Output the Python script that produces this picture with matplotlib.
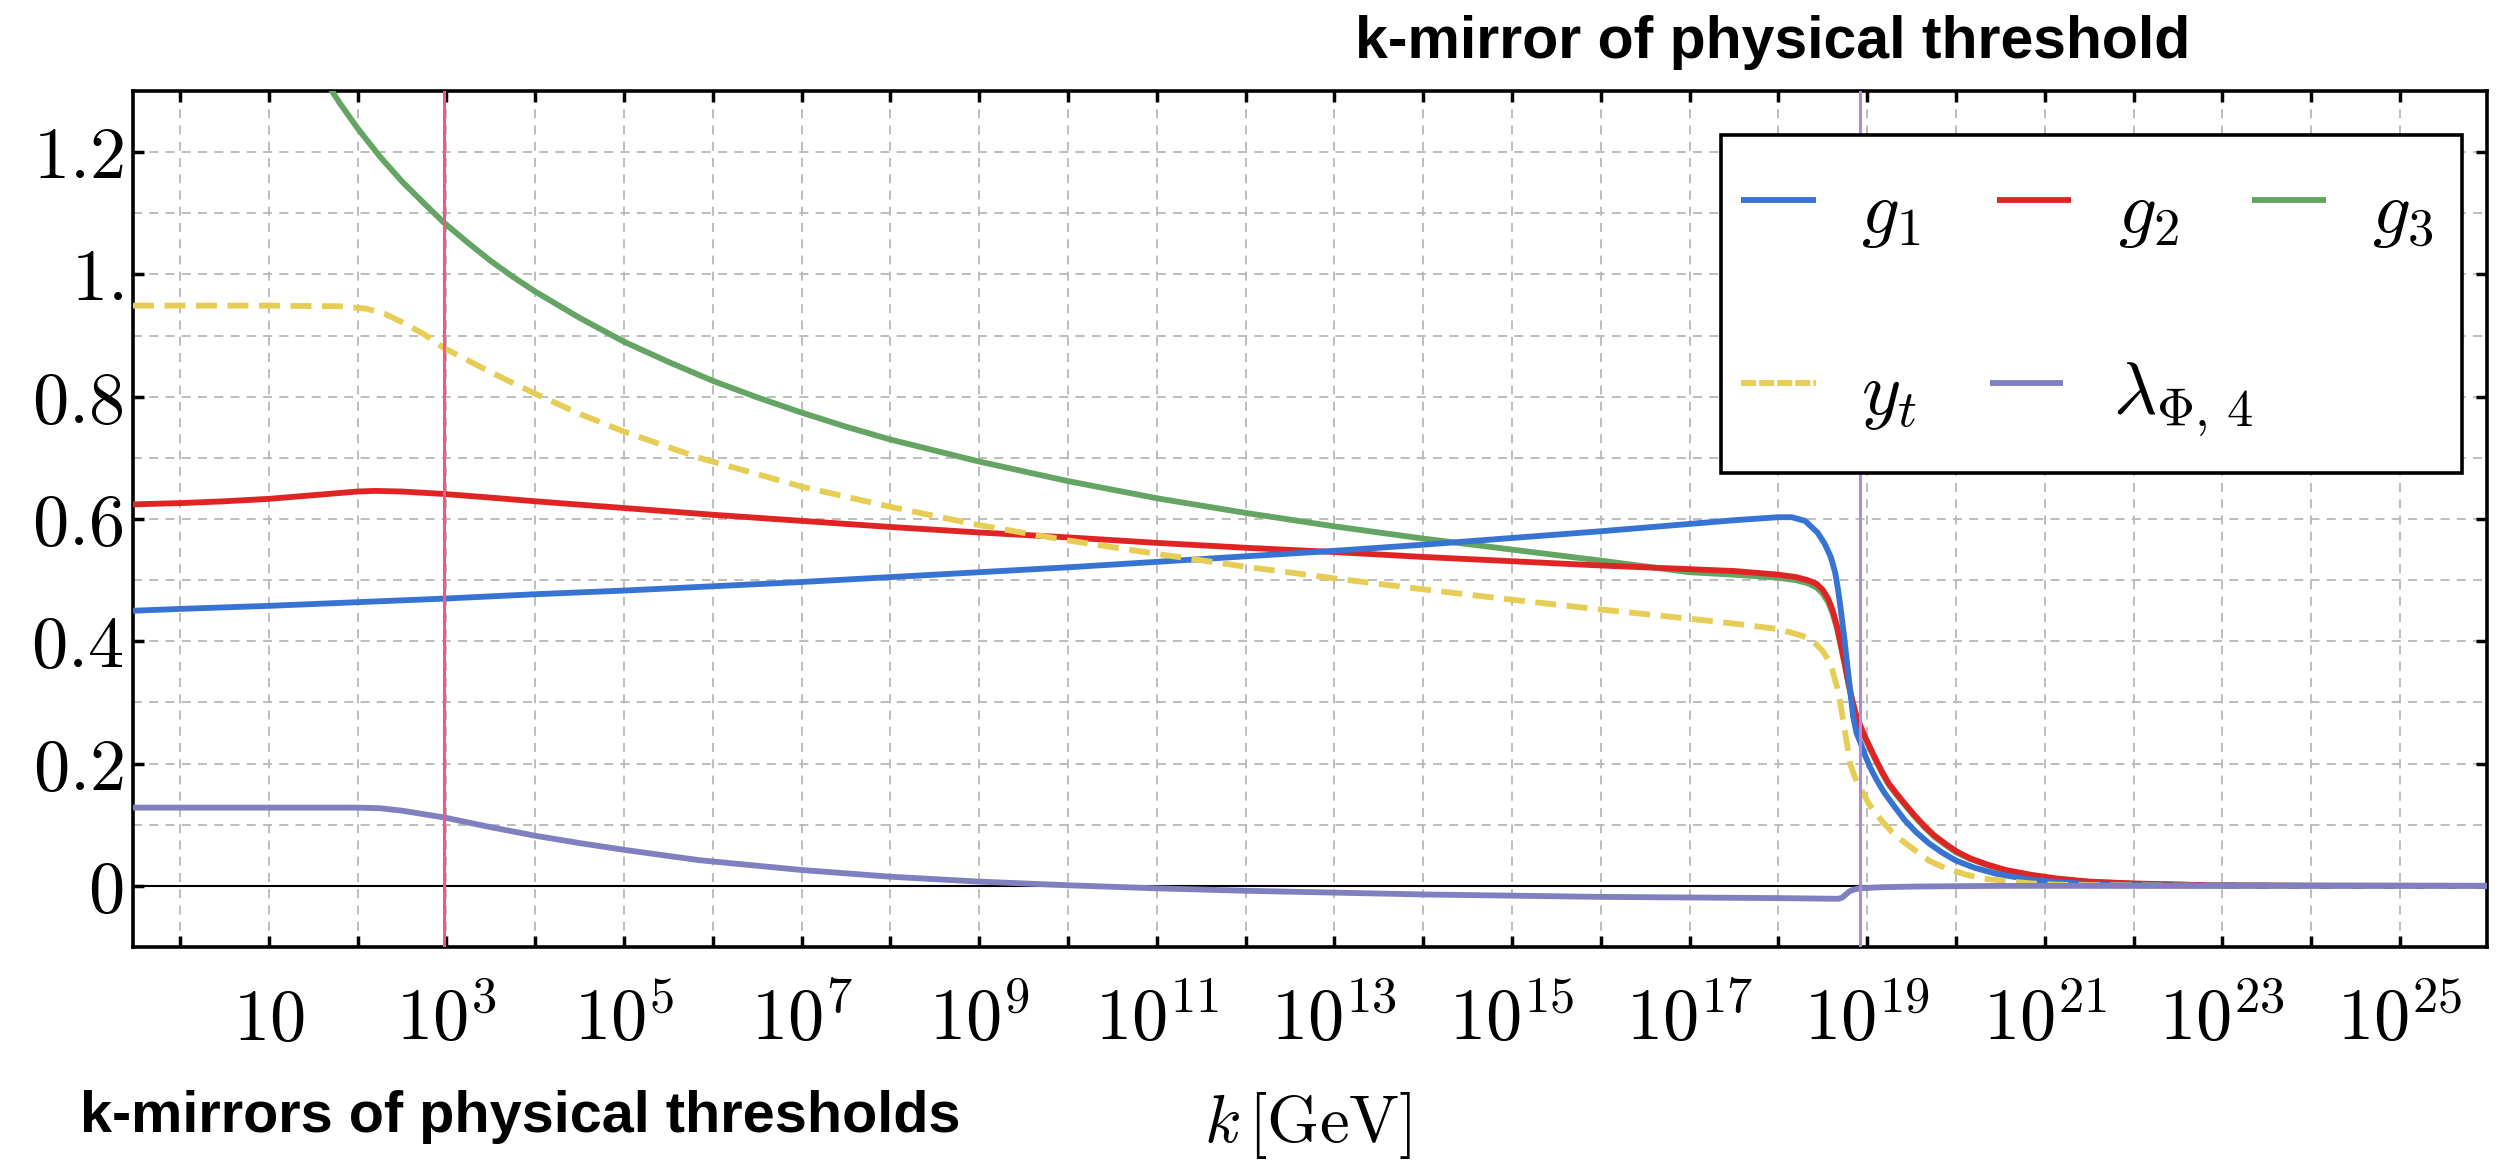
import matplotlib
matplotlib.use("Agg")
import matplotlib.pyplot as plt
from matplotlib.lines import Line2D
from matplotlib.patches import Rectangle
from matplotlib.ticker import NullLocator, MultipleLocator
import numpy as np

plt.rcParams['mathtext.fontset'] = 'cm'
plt.rcParams['font.family'] = ['Liberation Sans', 'DejaVu Sans']

# log10(k / GeV) and the couplings
lk_g1 = [-0.53, 0, 1, 2, 3, 4, 5, 6, 7, 8, 9, 10, 11, 12, 13, 14, 15, 16, 17, 17.5,
         18.0, 18.15, 18.3, 18.44, 18.52, 18.59, 18.64, 18.67, 18.70, 18.73, 18.76,
         18.79, 18.82, 18.84, 18.88, 18.93, 18.98, 19.04, 19.1, 19.19, 19.3, 19.42,
         19.55, 19.70, 19.85, 19.99, 20.2, 20.45, 20.8, 21.14, 21.5, 22.0, 23, 24, 26]
g1 = [0.450, 0.453, 0.458, 0.464, 0.470, 0.477, 0.483, 0.490, 0.497, 0.505, 0.513,
      0.521, 0.530, 0.539, 0.548, 0.558, 0.569, 0.580, 0.592, 0.598,
      0.603, 0.603, 0.597, 0.578, 0.560, 0.538, 0.512, 0.486, 0.455, 0.420, 0.382,
      0.343, 0.305, 0.278, 0.250, 0.232, 0.212, 0.192, 0.175, 0.153, 0.131, 0.108,
      0.088, 0.069, 0.054, 0.042, 0.030, 0.020, 0.011, 0.006, 0.003, 0.0012, 0.0003,
      0.0001, 0.0]

lk_g2 = [-0.53, 0, 0.5, 1, 1.5, 2, 2.2, 2.5, 2.97, 3.5, 4, 5, 6, 7, 8, 9, 10, 11, 12,
         13, 14, 15, 16, 17, 17.5, 18.0, 18.2, 18.33, 18.43, 18.5, 18.56, 18.61, 18.66,
         18.70, 18.75, 18.79, 18.83, 18.87, 18.92, 18.96, 19.03, 19.10, 19.17, 19.24,
         19.33, 19.42, 19.53, 19.65, 19.76, 19.88, 20.0, 20.16, 20.35, 20.56, 20.85,
         21.14, 21.5, 22.0, 22.86, 24, 26]
g2 = [0.624, 0.626, 0.629, 0.633, 0.639, 0.645, 0.646, 0.645, 0.641, 0.635, 0.629,
      0.618, 0.607, 0.597, 0.587, 0.578, 0.570, 0.561, 0.553, 0.546, 0.538, 0.531,
      0.524, 0.518, 0.515, 0.509, 0.505, 0.500, 0.494, 0.484, 0.470, 0.451, 0.425,
      0.397, 0.362, 0.331, 0.305, 0.282, 0.263, 0.249, 0.227, 0.206, 0.186, 0.168,
      0.151, 0.135, 0.116, 0.097, 0.082, 0.069, 0.057, 0.045, 0.035, 0.026, 0.018,
      0.012, 0.007, 0.004, 0.001, 0.0003, 0.0]

lk_g3 = [1.6, 1.8, 2.0, 2.25, 2.5, 2.75, 2.97, 3.25, 3.5, 3.75, 4, 4.5, 5, 5.5, 6,
         6.5, 7, 7.5, 8, 9, 10, 11, 12, 13, 14, 15, 16, 17,
         17.5, 18.0, 18.2, 18.33, 18.43, 18.5, 18.56, 18.61, 18.66, 18.70, 18.75,
         18.79, 18.83, 18.87, 18.92, 18.96, 19.03, 19.10, 19.17, 19.24, 19.33, 19.42,
         19.53, 19.65, 19.76, 19.88, 20.0, 20.16, 20.35, 20.56, 20.85, 21.14, 21.5,
         22.0, 22.86, 24, 26]
g3 = [1.325, 1.280, 1.239, 1.193, 1.152, 1.116, 1.085, 1.051, 1.022, 0.996, 0.972,
      0.929, 0.890, 0.857, 0.826, 0.799, 0.774, 0.751, 0.730, 0.694,
      0.662, 0.634, 0.610, 0.588, 0.568, 0.550, 0.532, 0.513, 0.509, 0.504, 0.500,
      0.495, 0.488, 0.478, 0.464, 0.446, 0.421, 0.394, 0.360, 0.329, 0.303, 0.280,
      0.261, 0.247, 0.225, 0.204, 0.184, 0.166, 0.149, 0.133, 0.114, 0.095, 0.080,
      0.067, 0.055, 0.044, 0.034, 0.025, 0.017, 0.011, 0.0065, 0.0035, 0.001,
      0.0003, 0.0]

lk_yt = [-0.53, 1.0, 1.8, 2.1, 2.3, 2.5, 2.75, 2.97, 3.5, 4.0, 4.5, 5.0, 5.85, 7, 8,
         9, 10, 11, 12, 13, 14, 15, 16, 17, 17.5, 18.0, 18.27, 18.4, 18.5, 18.56,
         18.61, 18.66, 18.70, 18.73, 18.76, 18.81, 18.85, 18.90, 18.96, 19.02, 19.09,
         19.16, 19.28, 19.42, 19.55, 19.70, 19.88, 20.1, 20.3, 20.56, 20.85, 21.14,
         21.6, 22.5, 26]
yt = [0.949, 0.949, 0.948, 0.944, 0.936, 0.922, 0.902, 0.880, 0.840, 0.805, 0.772,
      0.743, 0.700, 0.653, 0.620, 0.590, 0.565, 0.543, 0.522, 0.503, 0.485, 0.468,
      0.452, 0.437, 0.429, 0.420, 0.409, 0.399, 0.384, 0.370, 0.352, 0.325, 0.297,
      0.270, 0.243, 0.199, 0.182, 0.166, 0.150, 0.134, 0.120, 0.107, 0.088, 0.071,
      0.057, 0.041, 0.029, 0.019, 0.012, 0.008, 0.004, 0.002, 0.001, 0.0003, 0.0]

lk_lam = [-0.53, 1.0, 2.0, 2.25, 2.5, 2.97, 3.5, 4, 4.5, 5, 5.85, 7, 8, 9, 10, 11, 12,
          13, 14, 15, 16, 17, 18, 18.6, 18.68, 18.72, 18.76, 18.80, 18.85, 18.92,
          19.05, 19.2, 19.4, 19.6, 20.0, 20.5, 26]
lam = [0.128, 0.128, 0.128, 0.127, 0.123, 0.112, 0.096, 0.082, 0.070, 0.059, 0.042,
       0.026, 0.015, 0.007, 0.001, -0.004, -0.008, -0.011, -0.014, -0.016, -0.018,
       -0.019, -0.020, -0.021, -0.021, -0.019, -0.014, -0.009, -0.006, -0.004,
       -0.003, -0.002, -0.0015, -0.001, -0.0005, 0.0, 0.0]

# threshold lines (log10 k)
lk_thr_low = 2.97
lk_thr_high = 18.92

xtick_exp = list(range(0, 26))
ytick_vals = [0, 0.2, 0.4, 0.6, 0.8, 1.0, 1.2]
ytick_text = ['0', '0.2', '0.4', '0.6', '0.8', '1.', '1.2']

c_g1 = '#3773d2'
c_g2 = '#e02424'
c_g3 = '#64a564'
c_yt = '#e6cd55'
c_lam = '#8080c0'
LW = 4.2
yt_dash = (0, (3.6, 1.8))


def kk(lk):
    return 10.0 ** np.asarray(lk, dtype=float)


fig = plt.figure(figsize=(24.99, 11.61), dpi=100)
ax = fig.add_axes([0.0532, 0.1843, 0.9420, 0.7373])
ax.set_xscale('log')

ax.axhline(0, color='black', lw=1.5, zorder=2)
ax.plot(kk(lk_g3), g3, color=c_g3, lw=LW, zorder=3)
ax.plot(kk(lk_g2), g2, color=c_g2, lw=LW, zorder=4)
ax.plot(kk(lk_g1), g1, color=c_g1, lw=LW, zorder=5)
ax.plot(kk(lk_yt), yt, color=c_yt, lw=LW, ls=yt_dash, zorder=6)
ax.plot(kk(lk_lam), lam, color=c_lam, lw=LW, zorder=7)
ax.axvline(10 ** lk_thr_low, color='#f05a82', lw=2.2, zorder=8)
ax.axvline(10 ** lk_thr_high, color='#b08ad8', lw=2.2, zorder=8)

ax.set_xlim(10 ** -0.53, 10 ** 25.98)
ax.set_ylim(-0.1, 1.3)

xlabels = []
for e in xtick_exp:
    if e == 1:
        xlabels.append('$10$')
    elif e % 2 == 1:
        xlabels.append('$10^{%d}$' % e)
    else:
        xlabels.append('')
ax.set_xticks([10.0 ** e for e in xtick_exp], xlabels)
ax.xaxis.set_minor_locator(NullLocator())
ax.set_yticks(ytick_vals, ['$%s$' % t for t in ytick_text])
ax.yaxis.set_minor_locator(MultipleLocator(0.1))

ax.tick_params(axis='both', which='major', direction='in', length=8, width=2.5,
               top=True, right=True, labelsize=52)
ax.tick_params(axis='y', which='minor', length=0)
ax.tick_params(axis='x', pad=67)
ax.tick_params(axis='y', pad=7)
for lab in ax.get_xticklabels():
    lab.set_verticalalignment('baseline')

grid_kw = dict(color='#b8b8b8', lw=1.3, ls=(0, (5, 4)))
ax.grid(True, which='major', axis='x', **grid_kw)
ax.grid(True, which='both', axis='y', **grid_kw)

for sp in ax.spines.values():
    sp.set_linewidth(2.6)

# legend box drawn by hand (Mathematica-like layout)
ax.add_patch(Rectangle((0.6746, 0.5537), 0.3148, 0.3949, transform=ax.transAxes,
                       facecolor='white', edgecolor='black', lw=2.6, zorder=10))
entries = [
    (0.6831, 0.7150, 0.8727, 0.7341, 0.834, c_g1, '-', '$g_1$'),
    (0.7918, 0.8233, 0.8727, 0.8432, 0.834, c_g2, '-', '$g_2$'),
    (0.9002, 0.9316, 0.8727, 0.9511, 0.834, c_g3, '-', '$g_3$'),
    (0.6831, 0.7150, 0.6589, 0.7341, 0.6227, c_yt, (0, (2.6, 0.5)), '$y_t$'),
    (0.7889, 0.8199, 0.6589, 0.8411, 0.6227, c_lam, '-', r'$\lambda_{\Phi,\,4}$'),
]
for x0, x1, yh, xt, ytx, col, ls, lab in entries:
    ax.add_line(Line2D([x0, x1], [yh, yh], transform=ax.transAxes, color=col,
                       lw=LW, ls=ls, zorder=11, solid_capstyle='butt',
                       dash_capstyle='butt'))
    ax.text(xt, ytx, lab, transform=ax.transAxes, fontsize=54, va='baseline',
            ha='left', zorder=11)

fig.text(0.7095, 1 - 58 / 1161, 'k-mirror of physical threshold', ha='center',
         va='baseline', fontsize=42.5, fontweight='bold')
fig.text(80 / 2499, 1 - 1132 / 1161, 'k-mirrors of physical thresholds', ha='left',
         va='baseline', fontsize=41.5, fontweight='bold')
fig.text(1308 / 2499, 1 - 1142 / 1161, r'$k\,[\mathrm{GeV}]$', ha='center',
         va='baseline', fontsize=48)

fig.savefig('out.png', dpi=100)
